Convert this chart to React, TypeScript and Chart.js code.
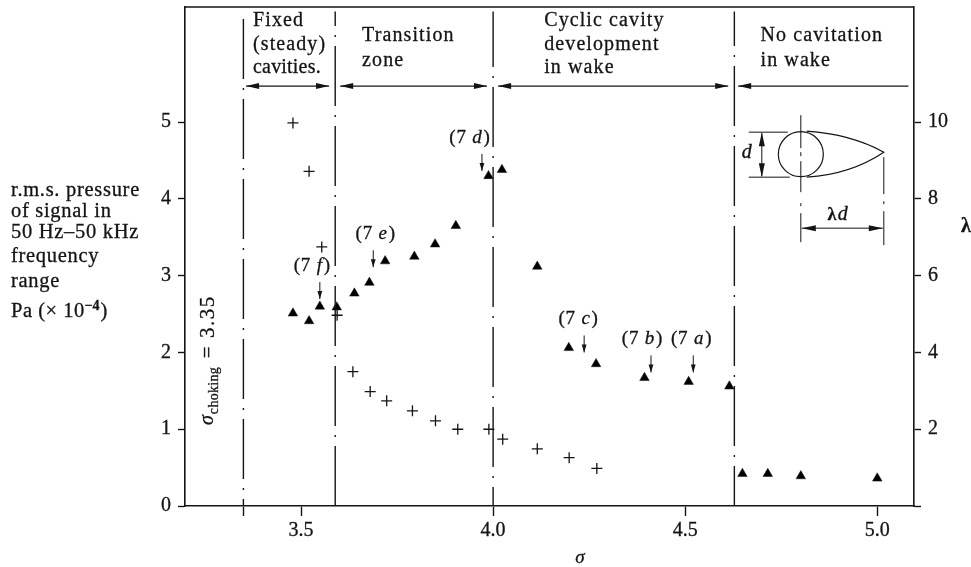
import React, { useEffect, useRef } from "react";
import { Chart, registerables } from "chart.js";

Chart.register(...registerables);

const plusSigma = [3.479, 3.521, 3.554, 3.594, 3.635, 3.68, 3.723, 3.79, 3.85, 3.908, 3.989, 4.025, 4.115, 4.198, 4.27];
const plusLambda = [9.98, 8.72, 6.75, 4.97, 3.5, 2.98, 2.74, 2.48, 2.22, 2.0, 2.0, 1.74, 1.49, 1.26, 0.98];

const triSigma = [3.479, 3.521, 3.549, 3.593, 3.639, 3.678, 3.719, 3.795, 3.849, 3.903, 3.988, 4.023, 4.115, 4.197, 4.268, 4.394, 4.509, 4.615, 4.649, 4.715, 4.801, 5.0];
const triPressure = [2.51, 2.41, 2.6, 2.59, 2.77, 2.91, 3.19, 3.25, 3.41, 3.65, 4.3, 4.38, 3.12, 2.06, 1.85, 1.67, 1.62, 1.56, 0.42, 0.42, 0.39, 0.36];

const boundarySigma = [3.35, 3.589, 4.0, 4.628];
const xTicks = [3.35, 3.5, 4.0, 4.5, 5.0];
const leftTicks = [0, 1, 2, 3, 4, 5];
const rightTicks = [0, 2, 4, 6, 8, 10];

const SERIF = '"Liberation Serif", serif';
const INK = "#141414";
const dashPhase = [53, 0, 41, 20];

function text(ctx: any, s: string, x: number, y: number, size = 20, style = "", spacing = 1, align = "left") {
  ctx.save();
  ctx.font = `${style} ${size}px ${SERIF}`;
  (ctx as any).letterSpacing = `${spacing}px`;
  ctx.textAlign = align;
  ctx.textBaseline = "middle";
  ctx.fillStyle = INK;
  ctx.strokeStyle = INK;
  ctx.lineWidth = 0.3;
  ctx.fillText(s, x, y);
  ctx.strokeText(s, x, y);
  const w = ctx.measureText(s).width;
  ctx.restore();
  return w;
}

function head(ctx: any, x: number, y: number, dx: number, dy: number, len = 13, half = 3) {
  ctx.beginPath();
  ctx.moveTo(x, y);
  ctx.lineTo(x - dx * len - dy * half, y - dy * len - dx * half);
  ctx.lineTo(x - dx * len + dy * half, y - dy * len + dx * half);
  ctx.closePath();
  ctx.fill();
}

const sectionLabels: [string[], number][] = [
  [["Fixed", "(steady)", "cavities."], 3.375],
  [["Transition", "zone"], 3.659],
  [["Cyclic cavity", "development", "in wake"], 4.133],
  [["No cavitation", "in wake"], 4.696],
];
const sectionArrows: [number, number, boolean][] = [
  [3.357, 3.573, true],
  [3.602, 3.984, true],
  [4.013, 4.612, true],
  [4.638, 5.081, false],
];
const caseLabels: [string, string, number, number, number][] = [
  ["(7 ", "d", 3.886, 4.795, 3.971],
  ["(7 ", "e", 3.642, 3.54, 3.688],
  ["(7 ", "f", 3.481, 3.125, 3.549],
  ["(7 ", "c", 4.17, 2.43, 4.237],
  ["(7 ", "b", 4.335, 2.17, 4.411],
  ["(7 ", "a", 4.463, 2.17, 4.521],
];

const overlay = {
  id: "overlay",
  afterDatasetsDraw(chart: any) {
    const { ctx, chartArea: a, scales } = chart;
    const X = (v: number) => scales.x.getPixelForValue(v);
    const Y = (v: number) => scales.y.getPixelForValue(v);
    ctx.save();
    ctx.strokeStyle = INK;
    ctx.fillStyle = INK;

    // top frame
    ctx.lineWidth = 1.5;
    ctx.beginPath();
    ctx.moveTo(a.left, a.top);
    ctx.lineTo(a.right, a.top);
    ctx.stroke();

    // zones
    sectionLabels.forEach(([lines, sx]) => {
      const top = lines.length === 3 ? 21 : 36;
      lines.forEach((l, i) => text(ctx, l, X(sx), top + i * (lines.length === 3 ? 23.5 : 25), 20, "", i === 2 && sx < 3.5 ? 0.2 : 1.1));
    });
    ctx.lineWidth = 1.2;
    sectionArrows.forEach(([s0, s1, both]) => {
      const y = Y(5.47);
      ctx.beginPath();
      ctx.moveTo(X(s0), y);
      ctx.lineTo(X(s1), y);
      ctx.stroke();
      head(ctx, X(s0), y, -1, 0);
      if (both) head(ctx, X(s1), y, 1, 0);
    });

    // case labels
    caseLabels.forEach(([a0, letter, sx, py, arrowS]) => {
      const px = X(sx);
      const y = Y(py);
      const w = text(ctx, a0, px, y, 19, "", 0.8);
      const w2 = text(ctx, letter, px + w, y, 19, "italic", 0.8);
      text(ctx, ")", px + w + w2 + 1, y, 19, "", 0);
      const ax = X(arrowS);
      const y0 = y + 16;
      const y1 = y + 33;
      ctx.lineWidth = 1;
      ctx.beginPath();
      ctx.moveTo(ax, y0);
      ctx.lineTo(ax, y1);
      ctx.stroke();
      head(ctx, ax, y1, 0, 1, 8, 2.4);
    });

    // inset body
    const cx = X(4.801);
    const cy = Y(4.583);
    ctx.lineWidth = 1.2;
    ctx.beginPath();
    ctx.arc(cx, cy, 22.5, 0, Math.PI * 2);
    ctx.stroke();
    ctx.beginPath();
    ctx.moveTo(cx + 6, cy - 23);
    ctx.quadraticCurveTo(cx + 50, cy - 20, cx + 83, cy - 2);
    ctx.quadraticCurveTo(cx + 50, cy + 20, cx + 6, cy + 23);
    ctx.stroke();
    ctx.lineWidth = 1;
    const seg = (x0: number, y0: number, x1: number, y1: number) => {
      ctx.beginPath();
      ctx.moveTo(x0, y0);
      ctx.lineTo(x1, y1);
      ctx.stroke();
    };
    seg(cx, cy - 39, cx, cy - 6);
    seg(cx, cy - 2, cx, cy + 2);
    seg(cx, cy + 7, cx, cy + 38);
    seg(cx, cy + 49, cx, cy + 52);
    seg(cx, cy + 59, cx, cy + 88);
    seg(cx + 83, cy + 3, cx + 83, cy + 40);
    seg(cx + 83, cy + 47, cx + 83, cy + 50);
    seg(cx + 83, cy + 57, cx + 83, cy + 91);
    seg(cx - 52, cy - 22, cx - 13, cy - 22);
    seg(cx - 52, cy + 23, cx - 11, cy + 23);
    seg(cx - 39, cy - 21, cx - 39, cy + 22);
    head(ctx, cx - 39, cy - 22, 0, -1, 14, 3);
    head(ctx, cx - 39, cy + 23, 0, 1, 14, 3);
    seg(cx + 1, cy + 74, cx + 82, cy + 74);
    head(ctx, cx + 1, cy + 74, -1, 0, 14, 3);
    head(ctx, cx + 82, cy + 74, 1, 0, 14, 3);
    text(ctx, "d", cx - 54, cy - 1, 20, "italic", 0, "center");
    text(ctx, "λ", cx + 31, cy + 61, 18, "bold", 0, "center");
    text(ctx, "d", cx + 42, cy + 61, 20, "italic", 0, "center");

    // left axis description
    const descLines: [string, number][] = [
      ["r.m.s. pressure", 191],
      ["of signal in", 212],
      ["50 Hz–50 kHz", 233],
      ["frequency", 257],
      ["range", 282],
    ];
    descLines.forEach(([l, y]) => text(ctx, l, 11, y, 20.5, "", 0.7));
    let px = 11;
    px += text(ctx, "Pa (× 10", px, 312, 20.5, "", 0.5);
    px += text(ctx, "−4", px, 306, 14, "bold", 0);
    text(ctx, ")", px + 1, 312, 20.5, "", 0);

    // right and bottom axis titles
    text(ctx, "λ", 966, 227, 20, "bold", 0, "center");
    text(ctx, "σ", 580, 558, 19, "italic", 0, "center");

    // sigma choking, rotated
    ctx.save();
    ctx.translate(208, 425);
    ctx.rotate(-Math.PI / 2);
    let tx = 0;
    tx += text(ctx, "σ", tx, 0, 20, "italic", 0) + 1;
    tx += text(ctx, "choking", tx, 6, 14, "", 0.3);
    text(ctx, " = 3.35", tx + 2, 0, 21, "", 1.5);
    ctx.restore();

    ctx.restore();
  },
};

const noPadY = (s: any, width: number) => {
  s.width = width;
  s.paddingTop = 0;
  s.paddingBottom = 0;
};

const tickFont = { family: SERIF, size: 20 };
const tickInk = { color: INK, textStrokeColor: INK, textStrokeWidth: 0.3 };

export default function App() {
  const ref = useRef<HTMLCanvasElement>(null);
  useEffect(() => {
    const vertical = boundarySigma.map((s, i) => ({
      type: "scatter" as const,
      data: [{ x: s, y: 0 }, { x: s, y: 6.44 }],
      yAxisID: "y",
      showLine: true,
      pointRadius: 0,
      borderColor: INK,
      borderWidth: 1.4,
      borderDash: [60, 9, 2, 9],
      borderDashOffset: dashPhase[i],
    }));
    const chart = new Chart(ref.current!, {
      type: "scatter",
      data: {
        datasets: [
          ...vertical,
          {
            label: "λ",
            data: plusSigma.map((x, i) => ({ x, y: plusLambda[i] })),
            yAxisID: "y2",
            pointStyle: "cross",
            pointRadius: 5.5,
            pointBorderWidth: 1.3,
            borderColor: INK,
            backgroundColor: INK,
          },
          {
            label: "r.m.s. pressure",
            data: triSigma.map((x, i) => ({ x, y: triPressure[i] })),
            yAxisID: "y",
            pointStyle: "triangle",
            pointRadius: 5.5,
            pointBorderWidth: 0.5,
            borderColor: INK,
            backgroundColor: "#000",
          },
        ],
      } as any,
      plugins: [overlay],
      options: {
        animation: false,
        responsive: false,
        layout: { padding: { top: 7, left: 0, right: 0, bottom: 0 } },
        plugins: { legend: { display: false }, tooltip: { enabled: false } },
        scales: {
          x: {
            type: "linear",
            min: 3.198,
            max: 5.0956,
            afterBuildTicks: (s: any) => { s.ticks = xTicks.map((value) => ({ value })); },
            afterFit: (s: any) => { s.height = 61; },
            ticks: {
              font: tickFont,
              ...tickInk,
              padding: 3,
              maxRotation: 0,
              autoSkip: false,
              callback: (v: any) => (Number(v) === 3.35 ? "" : Number(v).toFixed(1)),
            },
            grid: { drawOnChartArea: false, tickLength: 10, tickColor: INK, tickWidth: 1.4 },
            border: { color: INK, width: 1.6 },
          },
          y: {
            type: "linear",
            position: "left",
            min: 0,
            max: 6.5,
            afterBuildTicks: (s: any) => { s.ticks = leftTicks.map((value) => ({ value })); },
            afterFit: (s: any) => noPadY(s, 185),
            ticks: { font: tickFont, ...tickInk, padding: 7, autoSkip: false },
            grid: { drawOnChartArea: false, tickLength: 7, tickColor: INK, tickWidth: 1.4 },
            border: { color: INK, width: 1.6 },
          },
          y2: {
            type: "linear",
            position: "right",
            min: 0,
            max: 13,
            afterBuildTicks: (s: any) => { s.ticks = rightTicks.map((value) => ({ value })); },
            afterFit: (s: any) => noPadY(s, 57),
            ticks: {
              font: tickFont,
              ...tickInk,
              padding: 7,
              autoSkip: false,
              callback: (v: any) => (Number(v) === 0 ? "" : String(v)),
            },
            grid: { drawOnChartArea: false, tickLength: 7, tickColor: INK, tickWidth: 1.4 },
            border: { color: INK, width: 1.6 },
          },
        },
      },
    } as any);
    return () => chart.destroy();
  }, []);
  return (
    <div style={{ position: "fixed", left: 0, top: 0, width: 971, height: 567, background: "#fff" }}>
      <canvas ref={ref} width={971} height={567} style={{ display: "block" }} />
    </div>
  );
}
